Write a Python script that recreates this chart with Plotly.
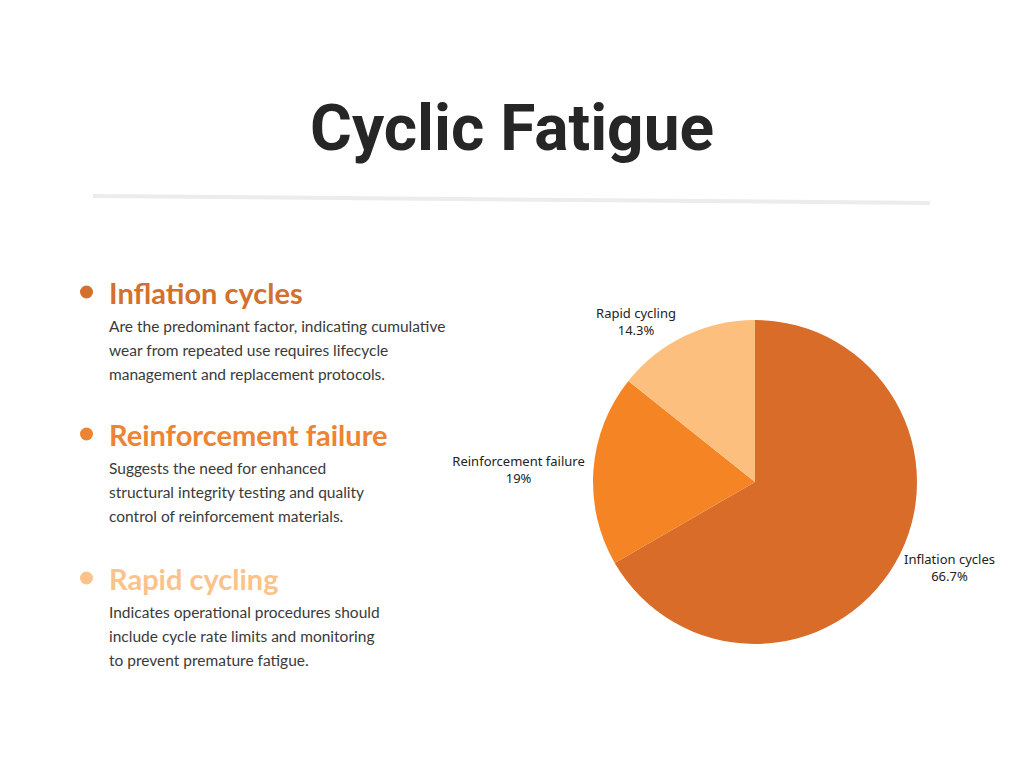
import plotly.graph_objects as go

W, H = 1024, 768
OFF = 8  # page margin of the browser

# pie data
labels = ["Inflation cycles", "Reinforcement failure", "Rapid cycling"]
counts = [14, 4, 3]
colors = ["#D96C28", "#F48424", "#FDBF7E"]

title = "Cyclic Fatigue"
notes = [
    ["Are the predominant factor, indicating cumulative",
     "wear from repeated use requires lifecycle",
     "management and replacement protocols."],
    ["Suggests the need for enhanced",
     "structural integrity testing and quality",
     "control of reinforcement materials."],
    ["Indicates operational procedures should",
     "include cycle rate limits and monitoring",
     "to prevent premature fatigue."],
]
heading_colors = ["#D4702E", "#EC8432", "#FBC38A"]


def px(x):
    return (x - OFF) / W


def py(y):
    return 1 - (y - OFF) / H


fig = go.Figure()

fig.add_trace(go.Pie(
    labels=labels, values=counts,
    sort=False, direction="clockwise", rotation=0,
    marker=dict(colors=colors, line=dict(width=0)),
    textinfo="label+percent", textposition="outside",
    textfont=dict(family="Noto Sans", size=13, color="#222222"),
    showlegend=False,
    domain=dict(x=[px(593), px(917)], y=[py(644), py(320)]),
))

annotations = [dict(
    text="<b>" + title + "</b>", x=px(512), y=py(128), xref="paper", yref="paper",
    showarrow=False, xanchor="center", yanchor="middle",
    font=dict(family="Roboto", size=64, color="#262626"))]

shapes = [dict(type="line", xref="paper", yref="paper",
               x0=px(93), y0=py(196), x1=px(930), y1=py(203),
               line=dict(color="#ECECEC", width=4))]

head_y = [292, 434, 578]
for i, lab in enumerate(labels):
    y0 = head_y[i]
    shapes.append(dict(type="circle", xref="paper", yref="paper",
                       x0=px(80), x1=px(93), y0=py(y0 - 6.5), y1=py(y0 + 6.5),
                       fillcolor=heading_colors[i], line=dict(width=0)))
    annotations.append(dict(
        text="<b>" + lab + "</b>", x=px(107), y=py(y0), xref="paper", yref="paper",
        showarrow=False, xanchor="left", yanchor="middle",
        font=dict(family="Lato", size=29, color=heading_colors[i])))
    for j, line in enumerate(notes[i]):
        annotations.append(dict(
            text=line, x=px(107), y=py(y0 + 34 + 24 * j), xref="paper", yref="paper",
            showarrow=False, xanchor="left", yanchor="middle",
            font=dict(family="Lato", size=15.5, color="#3A3A3A")))

fig.update_layout(
    width=W, height=H,
    margin=dict(l=0, r=0, t=0, b=0),
    paper_bgcolor="white", plot_bgcolor="white",
    annotations=annotations, shapes=shapes,
)

fig.write_html("out.html")
